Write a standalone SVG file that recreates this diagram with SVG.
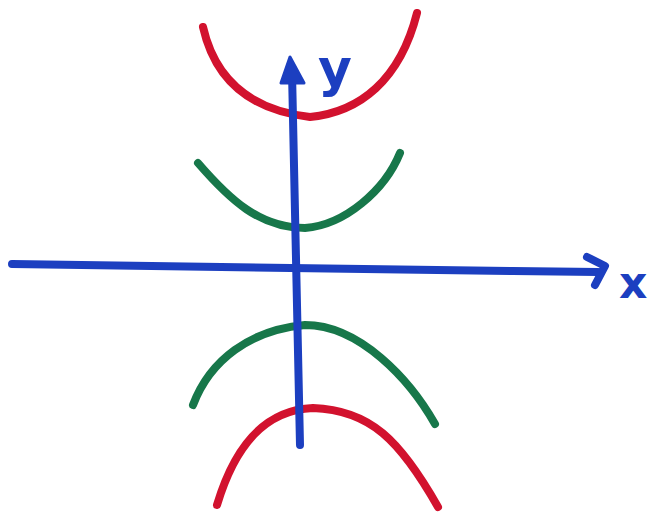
<svg xmlns="http://www.w3.org/2000/svg" width="652" height="512" viewBox="0 0 652 512">
<style>
.c{fill:none;stroke-width:8;stroke-linecap:round;stroke-linejoin:round}
.red{stroke:#d2122e}
.green{stroke:#17774a}
.blue{stroke:#1c3fc0}
.lbl{font-family:"DejaVu Sans",sans-serif;font-weight:bold;fill:#1c3fc0}
</style>
<rect width="652" height="512" fill="#fff"/>
<g id="curves">
<path class="c red" d="M203,27 C215,80 250,110 310,117 C360,112 400,80 417,13"/>
<path class="c green" d="M198,163 C230,200 260,228 305,228 C345,225 385,190 400,153"/>
<path class="c green" d="M193,405 C210,360 250,330 305,325 C360,325 410,380 435,424"/>
<path class="c red" d="M217,505 C235,445 265,410 313,408 C370,410 400,440 438,507"/>
</g>
<g id="axes">
<path class="c blue" d="M300,445 L292,72"/>
<polygon points="290,57 281,83 304,83" fill="#1c3fc0" stroke="#1c3fc0" stroke-width="3" stroke-linejoin="round"/>
<path class="c blue" d="M12,264 C200,267 400,270 598,272"/>
<path class="c blue" d="M587,257 L605,266 L595,285"/>
</g>
<text class="lbl" x="318" y="86" font-size="52">y</text>
<text class="lbl" x="619" y="298" font-size="44">x</text>
</svg>
